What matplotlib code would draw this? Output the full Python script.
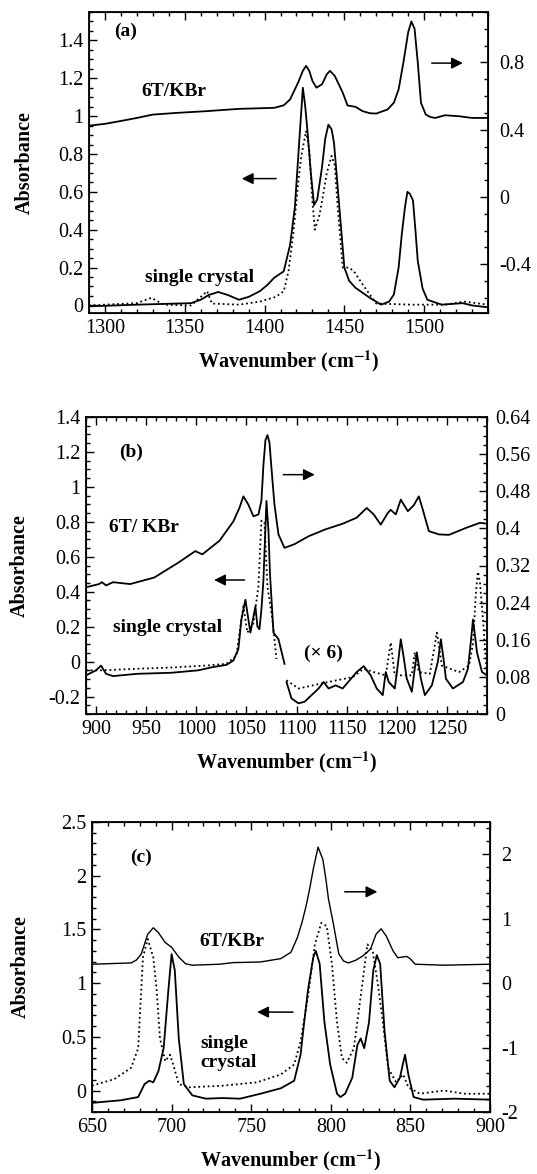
import matplotlib
matplotlib.use("Agg")
import matplotlib.pyplot as plt
from matplotlib.ticker import MultipleLocator, FixedLocator

plt.rcParams['font.family'] = 'serif'
plt.rcParams['font.serif'] = ['Liberation Serif', 'DejaVu Serif']
plt.rcParams['mathtext.fontset'] = 'stix'

# ---- panel (a) ----
a_kbr_wn = [1290, 1300, 1310, 1320, 1330, 1345, 1363, 1384, 1406, 1412, 1416, 1421, 1424, 1426, 1428,
            1430, 1432.5, 1436, 1439, 1441, 1444, 1447, 1449, 1452, 1457, 1461.5, 1466, 1470, 1477,
            1481, 1484, 1487, 1490, 1492, 1494, 1496, 1498, 1501, 1504, 1507, 1513, 1522, 1530, 1540]
a_kbr = [0.424, 0.435, 0.452, 0.47, 0.49, 0.5, 0.51, 0.524, 0.53, 0.545, 0.58, 0.68, 0.75, 0.78, 0.75,
         0.69, 0.65, 0.67, 0.73, 0.75, 0.72, 0.66, 0.62, 0.544, 0.536, 0.51, 0.498, 0.496, 0.52,
         0.56, 0.64, 0.8, 0.98, 1.044, 1.0, 0.8, 0.56, 0.49, 0.475, 0.47, 0.486, 0.48, 0.47, 0.47]
a_sc_wn = [1290, 1320, 1354, 1360, 1365, 1371, 1377, 1384, 1390, 1397, 1402, 1406, 1412, 1416, 1419,
           1422, 1424, 1425.5, 1427, 1429, 1431, 1433, 1436, 1438, 1440, 1442, 1443.5, 1446.5, 1450,
           1453, 1457, 1466, 1473, 1478, 1481, 1484, 1486, 1488, 1489.5, 1491, 1493, 1494.5, 1496,
           1499, 1502, 1511, 1524, 1530, 1540]
a_sc = [-0.005, 0.004, 0.012, 0.03, 0.055, 0.071, 0.055, 0.03, 0.045, 0.075, 0.11, 0.146, 0.18, 0.32,
        0.52, 0.9, 1.15, 1.05, 0.91, 0.7, 0.53, 0.56, 0.73, 0.88, 0.955, 0.93, 0.86, 0.555, 0.2,
        0.13, 0.093, 0.04, 0.004, 0.02, 0.057, 0.2, 0.377, 0.52, 0.6, 0.59, 0.555, 0.4, 0.235,
        0.09, 0.03, 0.004, 0.012, 0.0, -0.01]
a_dot_wn = [1290, 1320, 1329, 1337, 1354, 1364, 1367, 1384, 1397, 1407, 1412, 1415, 1418, 1421, 1423,
            1426, 1428, 1430, 1431.5, 1434.5, 1437, 1439, 1442, 1444, 1446, 1449, 1453, 1456, 1461.5,
            1470, 1492, 1513, 1525, 1540]
a_dot = [0.0, 0.012, 0.04, 0.004, 0.0, 0.075, 0.01, 0.004, 0.02, 0.045, 0.075, 0.18, 0.377, 0.64, 0.79,
         0.92, 0.82, 0.55, 0.4, 0.48, 0.6, 0.70, 0.79, 0.74, 0.5, 0.2, 0.2, 0.18, 0.11,
         0.01, 0.004, 0.004, 0.02, 0.004]

# ---- panel (b) ----
b_kbr_wn = [890, 903, 906, 910, 917, 934, 958, 982, 999, 1006, 1023, 1037, 1043, 1047, 1052, 1057, 1062,
            1065, 1067, 1069, 1071, 1073, 1075, 1078, 1082, 1088, 1098, 1112, 1129, 1146, 1160, 1170,
            1177, 1184, 1191, 1194, 1199, 1204, 1211, 1217, 1222, 1226, 1232, 1242, 1252, 1269, 1283,
            1290]
b_kbr = [0.273, 0.28, 0.284, 0.277, 0.284, 0.28, 0.294, 0.326, 0.351, 0.344, 0.373, 0.415, 0.444, 0.469,
         0.451, 0.426, 0.43, 0.46, 0.537, 0.59, 0.601, 0.585, 0.53, 0.451, 0.387, 0.358, 0.366, 0.383,
         0.398, 0.41, 0.423, 0.444, 0.43, 0.408, 0.433, 0.44, 0.43, 0.462, 0.437, 0.45, 0.469, 0.44,
         0.394, 0.387, 0.386, 0.401, 0.412, 0.41]
b_sc_wn = [890, 900, 905, 910, 917, 941, 975, 1002, 1016, 1030, 1037, 1042, 1045, 1049, 1052, 1054, 1059,
           1061, 1063, 1065, 1067, 1070, 1072, 1073.5, 1077, 1082, 1088]
b_sc = [-0.079, -0.05, -0.023, -0.07, -0.083, -0.07, -0.064, -0.05, -0.032, -0.019, 0.006, 0.072, 0.241,
        0.354, 0.241, 0.166, 0.316, 0.2, 0.185, 0.3, 0.467, 0.919, 0.75, 0.505, 0.166, 0.128, -0.013]
b_dot_wn = [890, 906, 941, 975, 1009, 1030, 1040, 1045, 1047, 1051, 1057, 1062, 1065, 1068, 1071, 1076,
            1080]
b_dot = [-0.05, -0.05, -0.041, -0.034, -0.023, -0.013, 0.034, 0.24, 0.316, 0.166, 0.22, 0.43, 0.806,
         0.8, 0.43, 0.24, 0.015]
b_sc6_wn = [1090, 1095, 1102, 1108, 1115, 1122, 1127, 1132, 1139, 1146, 1153, 1160, 1167, 1174, 1180,
            1186, 1189, 1192, 1198, 1201, 1204, 1207, 1210, 1215, 1220, 1224, 1228, 1235, 1241, 1244,
            1247, 1249, 1256, 1266, 1271, 1274, 1276, 1278, 1280, 1285, 1290]
b_sc6 = [-0.117, -0.211, -0.239, -0.23, -0.192, -0.154, -0.117, -0.154, -0.136, -0.154, -0.107, -0.06,
         -0.026, -0.079, -0.154, -0.192, -0.06, -0.117, -0.154, -0.02, 0.128, 0.02, -0.098, -0.173,
         0.053, -0.098, -0.192, -0.136, 0.0, 0.128, 0.0, -0.098, -0.154, -0.117, -0.041, 0.12, 0.241,
         0.15, 0.053, -0.06, -0.079]
b_dot6_wn = [1090, 1102, 1129, 1156, 1167, 1177, 1189, 1194, 1198, 1215, 1218, 1222, 1233, 1240, 1245,
             1262, 1272, 1276, 1279, 1281, 1283, 1286, 1290]
b_dot6 = [-0.107, -0.154, -0.12, -0.089, -0.041, -0.06, -0.079, 0.109, -0.079, -0.079, 0.053, -0.06,
          -0.07, 0.166, -0.023, -0.06, -0.023, 0.1, 0.4, 0.514, 0.45, 0.241, -0.079]

# ---- panel (c) ----
c_kbr_wn = [650, 674.6, 678, 681, 685, 688.5, 691.7, 696, 700, 704.5, 708.8, 713, 730, 738.7, 755.8,
            768.6, 775, 779, 782, 784.6, 787, 789, 792, 795, 797, 798.5, 801.7, 805, 808, 811, 815.6,
            820, 825, 828.4, 831.6, 834.8, 839, 842, 847.7, 849.8, 853, 871, 900]
c_kbr = [0.293, 0.313, 0.36, 0.455, 0.758, 0.859, 0.783, 0.63, 0.556, 0.404, 0.3, 0.278, 0.293, 0.318,
         0.328, 0.38, 0.48, 0.707, 0.95, 1.21, 1.5, 1.77, 2.11, 1.92, 1.6, 1.31, 0.91, 0.455, 0.343,
         0.313, 0.354, 0.419, 0.53, 0.758, 0.843, 0.732, 0.505, 0.394, 0.414, 0.38, 0.293, 0.278, 0.293]
c_sc_wn = [650, 668, 679, 683, 686, 688.5, 691.7, 695, 698, 700, 702, 704.5, 707.7, 713, 721.6, 732, 743,
           755.8, 768.6, 777, 781, 783, 785.7, 789, 790.6, 793, 796, 799.6, 803.9, 806, 809, 813.5,
           816.7, 818.8, 821, 824, 826.7, 828.9, 831, 833.8, 837, 840, 843.4, 846.6, 848.7, 852, 858,
           877.6, 900]
c_sc = [-0.115, -0.091, -0.061, 0.06, 0.091, 0.076, 0.18, 0.394, 0.94, 1.27, 1.12, 0.485, 0.06, -0.045,
        -0.076, -0.07, -0.076, -0.03, 0.021, 0.091, 0.333, 0.6, 0.94, 1.24, 1.30, 1.18, 0.636, 0.242,
        -0.03, -0.061, -0.03, 0.12, 0.424, 0.485, 0.394, 0.636, 1.12, 1.26, 1.18, 0.545, 0.091, 0.03,
        0.12, 0.333, 0.15, -0.061, -0.085, -0.076, -0.085]
c_dot_wn = [650, 664, 674.6, 679, 682, 685, 688.5, 690.6, 692.7, 696, 699, 701, 704.5, 711, 732, 753.6,
            768.6, 777, 781, 785.7, 790, 794, 797.5, 800.7, 803.9, 807, 810, 814.5, 818.8, 823, 826.3,
            829.5, 832.7, 836, 841, 845.5, 848.7, 856, 871, 884, 900]
c_dot = [0.045, 0.106, 0.212, 0.394, 1.24, 1.41, 1.24, 0.94, 0.485, 0.273, 0.333, 0.242, 0.06, 0.03,
         0.045, 0.076, 0.15, 0.242, 0.455, 0.88, 1.36, 1.56, 1.53, 1.18, 0.636, 0.303, 0.258, 0.394, 0.88,
         1.36, 1.30, 1.0, 0.636, 0.212, 0.076, 0.15, 0.03, -0.03, 0.0, -0.03, -0.03]

a_xticks = [1300, 1350, 1400, 1450, 1500]
a_lticks = [0, 0.2, 0.4, 0.6, 0.8, 1, 1.2, 1.4]
a_rticks = [-0.4, 0, 0.4, 0.8]
b_xticks = [900, 950, 1000, 1050, 1100, 1150, 1200, 1250]
b_lticks = [-0.2, 0, 0.2, 0.4, 0.6, 0.8, 1, 1.2, 1.4]
b_rticks = [0, 0.08, 0.16, 0.24, 0.32, 0.4, 0.48, 0.56, 0.64]
c_xticks = [650, 700, 750, 800, 850, 900]
c_lticks = [0, 0.5, 1, 1.5, 2, 2.5]
c_rticks = [-2, -1, 0, 1, 2]

FS = 14.5
TFS = 14
LW = 1.3
DOT = (0, (1, 1.6))


def fmt(v):
    s = ('%.2f' % v).rstrip('0').rstrip('.')
    return '0' if s in ('-0', '') else s


def style(ax, axr, xlim, xticks, xminor, lylim, lticks, lminor, rylim, rticks, rminor, rpad):
    ax.set_xlim(*xlim)
    ax.set_ylim(*lylim)
    axr.set_ylim(*rylim)
    ax.xaxis.set_major_locator(FixedLocator(xticks))
    ax.xaxis.set_minor_locator(MultipleLocator(xminor))
    ax.yaxis.set_major_locator(FixedLocator(lticks))
    ax.yaxis.set_minor_locator(MultipleLocator(lminor))
    axr.yaxis.set_major_locator(FixedLocator(rticks))
    axr.yaxis.set_minor_locator(MultipleLocator(rminor))
    ax.set_xticklabels([fmt(t) for t in xticks])
    ax.set_yticklabels([fmt(t) for t in lticks])
    axr.set_yticklabels([fmt(t) for t in rticks])
    ax.tick_params(which='both', direction='in', top=True, right=False, labelsize=FS, width=1.0)
    ax.tick_params(which='major', length=6, pad=4)
    ax.tick_params(which='minor', length=3)
    axr.tick_params(which='both', direction='in', labelsize=FS, width=1.0)
    axr.tick_params(which='major', length=6, pad=rpad)
    axr.tick_params(which='minor', length=3)
    for sp in ax.spines.values():
        sp.set_linewidth(1.3)
    ax.set_xlabel(r'Wavenumber (cm$^{\mathbf{-1}}$)', fontsize=FS, fontweight='bold', labelpad=8)
    ax.set_ylabel('Absorbance', fontsize=FS, fontweight='bold')


def arrow(ax, x0, x1, y):
    ax.annotate('', xy=(x1, y), xytext=(x0, y),
                arrowprops=dict(arrowstyle='-|>', color='k', lw=1.1, mutation_scale=17))


W, H = 537, 1174
fig = plt.figure(figsize=(W / 100, H / 100), dpi=100)

# (a)
ax = fig.add_axes([89 / W, 1 - 313 / H, 399 / W, 301 / H])
axr = ax.twinx()
axr.plot(a_kbr_wn, a_kbr, 'k-', lw=LW)
ax.plot(a_sc_wn, a_sc, 'k-', lw=LW)
ax.plot(a_dot_wn, a_dot, color='k', ls=DOT, lw=1.3)
style(ax, axr, (1290, 1540), a_xticks, 10, (-0.04, 1.55), a_lticks, 0.05,
      (-0.69, 1.1), a_rticks, 0.1, 8)
ax.yaxis.set_label_coords(-0.135, 0.5)
ax.text(1306, 1.45, '(a)', fontsize=TFS, fontweight='bold', va='center')
ax.text(1343, 1.13, '6T/KBr', fontsize=TFS, fontweight='bold', ha='center', va='center')
ax.text(1359, 0.15, 'single crystal', fontsize=TFS, fontweight='bold', ha='center', va='center')
arrow(ax, 1503, 1526, 1.28)
arrow(ax, 1409, 1384, 0.67)

# (b)
ax = fig.add_axes([86 / W, 1 - 714 / H, 401 / W, 297 / H])
axr = ax.twinx()
axr.plot(b_kbr_wn, b_kbr, 'k-', lw=LW)
ax.plot(b_sc_wn, b_sc, 'k-', lw=LW)
ax.plot(b_dot_wn, b_dot, color='k', ls=DOT, lw=1.3)
ax.plot(b_sc6_wn, b_sc6, 'k-', lw=LW)
ax.plot(b_dot6_wn, b_dot6, color='k', ls=DOT, lw=1.3)
style(ax, axr, (890, 1290), b_xticks, 10, (-0.3, 1.4), b_lticks, 0.05,
      (0, 0.64), b_rticks, 0.02, 6)
ax.yaxis.set_label_coords(-0.14, 0.5)
ax.text(923, 1.2, '(b)', fontsize=TFS, fontweight='bold', va='center')
ax.text(948, 0.77, '6T/ KBr', fontsize=TFS, fontweight='bold', ha='center', va='center')
ax.text(971, 0.195, 'single crystal', fontsize=TFS, fontweight='bold', ha='center', va='center')
ax.text(1127, 0.045, '(\u00d7 6)', fontsize=TFS, fontweight='bold', ha='center', va='center')
arrow(ax, 1084, 1121, 1.07)
arrow(ax, 1051, 1015, 0.467)

# (c)
ax = fig.add_axes([92 / W, 1 - 1112 / H, 398 / W, 290 / H])
axr = ax.twinx()
axr.plot(c_kbr_wn, c_kbr, 'k-', lw=1.0)
ax.plot(c_sc_wn, c_sc, 'k-', lw=LW)
ax.plot(c_dot_wn, c_dot, color='k', ls=DOT, lw=1.3)
style(ax, axr, (650, 900), c_xticks, 10, (-0.2, 2.5), c_lticks, 0.1,
      (-2, 2.5), c_rticks, 0.2, 8)
ax.yaxis.set_label_coords(-0.155, 0.5)
ax.text(674, 2.17, '(c)', fontsize=TFS, fontweight='bold', va='center')
ax.text(738, 1.39, '6T/KBr', fontsize=TFS, fontweight='bold', ha='center', va='center')
ax.text(718, 0.44, 'single', fontsize=TFS, fontweight='bold', ha='left', va='center')
ax.text(718, 0.26, 'crystal', fontsize=TFS, fontweight='bold', ha='left', va='center')
arrow(ax, 807, 831, 1.85)
arrow(ax, 778, 752, 0.73)

fig.savefig('out.png', dpi=100)
